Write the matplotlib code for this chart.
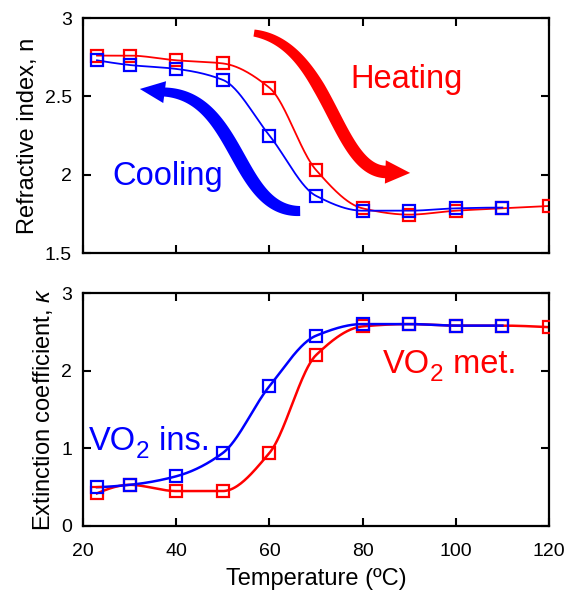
import numpy as np
import matplotlib
matplotlib.use('Agg')
import matplotlib.pyplot as plt
from matplotlib.patches import Polygon
from matplotlib.transforms import offset_copy

plt.rcParams['font.family'] = ['Liberation Sans', 'DejaVu Sans']
plt.rcParams['mathtext.fontset'] = 'custom'
plt.rcParams['mathtext.rm'] = 'Liberation Sans'
plt.rcParams['mathtext.it'] = 'Liberation Sans:italic'

# ---- data ----
temp_heat = [23, 30, 40, 50, 60, 70, 80, 90, 100, 110, 120]
temp_cool = [23, 30, 40, 50, 60, 70, 80, 90, 100, 110]
n_heat = [2.76, 2.76, 2.73, 2.71, 2.555, 2.03, 1.785, 1.745, 1.77, 1.785, 1.80]
n_cool = [2.73, 2.70, 2.675, 2.605, 2.25, 1.865, 1.77, 1.77, 1.785, 1.79]
k_heat = [0.42, 0.53, 0.45, 0.45, 0.94, 2.20, 2.57, 2.60, 2.58, 2.58, 2.56]
k_cool = [0.50, 0.53, 0.64, 0.94, 1.80, 2.45, 2.60, 2.60, 2.58, 2.58]

x_ticks = [20, 40, 60, 80, 100, 120]
n_ticks = [1.5, 2, 2.5, 3]
n_tick_labels = ['1.5', '2', '2.5', '3']
k_ticks = [0, 1, 2, 3]
k_tick_labels = ['0', '1', '2', '3']

RED = '#ff0000'
BLUE = '#0000ff'


def pchip(x, y, xs):
    x = np.asarray(x, float)
    y = np.asarray(y, float)
    h = np.diff(x)
    m = np.diff(y) / h
    n = len(x)
    d = np.zeros(n)
    for k in range(1, n - 1):
        if m[k - 1] * m[k] <= 0:
            d[k] = 0.0
        else:
            w1 = 2 * h[k] + h[k - 1]
            w2 = h[k] + 2 * h[k - 1]
            d[k] = (w1 + w2) / (w1 / m[k - 1] + w2 / m[k])

    def end(h0, h1, m0, m1):
        dd = ((2 * h0 + h1) * m0 - h0 * m1) / (h0 + h1)
        if np.sign(dd) != np.sign(m0):
            dd = 0.0
        elif np.sign(m0) != np.sign(m1) and abs(dd) > abs(3 * m0):
            dd = 3 * m0
        return dd

    d[0] = end(h[0], h[1], m[0], m[1])
    d[-1] = end(h[-1], h[-2], m[-1], m[-2])
    idx = np.clip(np.searchsorted(x, xs) - 1, 0, n - 2)
    t = (xs - x[idx]) / h[idx]
    h00 = 2 * t**3 - 3 * t**2 + 1
    h10 = t**3 - 2 * t**2 + t
    h01 = -2 * t**3 + 3 * t**2
    h11 = t**3 - t**2
    return h00 * y[idx] + h10 * h[idx] * d[idx] + h01 * y[idx + 1] + h11 * h[idx] * d[idx + 1]


def curved_arrow(ax, P, tip, wfun, head_w, color):
    T = ax.transData
    Pd = T.transform(np.array(P, float))
    tipd = T.transform(np.array([tip], float))[0]
    t = np.linspace(0, 1, 300)[:, None]
    B = ((1 - t)**3 * Pd[0] + 3 * (1 - t)**2 * t * Pd[1]
         + 3 * (1 - t) * t**2 * Pd[2] + t**3 * Pd[3])
    dB = (3 * (1 - t)**2 * (Pd[1] - Pd[0]) + 6 * (1 - t) * t * (Pd[2] - Pd[1])
          + 3 * t**2 * (Pd[3] - Pd[2]))
    nrm = np.column_stack([-dB[:, 1], dB[:, 0]]) / np.linalg.norm(dB, axis=1)[:, None]
    w = wfun(t[:, 0])[:, None]
    left = B + nrm * w / 2
    right = B - nrm * w / 2
    shaft = np.vstack([left, right[::-1]])
    dirv = tipd - Pd[3]
    dirv = dirv / np.linalg.norm(dirv)
    perp = np.array([-dirv[1], dirv[0]])
    base = Pd[3] - dirv * 1.5
    head = np.array([base + perp * head_w, tipd, base - perp * head_w])
    inv = T.inverted()
    ax.add_patch(Polygon(inv.transform(shaft), closed=True, fc=color, ec='none',
                         clip_on=False, zorder=4))
    ax.add_patch(Polygon(inv.transform(head), closed=True, fc=color, ec='none',
                         clip_on=False, zorder=4))


fig = plt.figure(figsize=(5.68, 5.95), dpi=100)
W, H = 568.0, 595.0
ax1 = fig.add_axes([83 / W, 1 - 253 / H, 466 / W, 235 / H])
ax2 = fig.add_axes([83 / W, 1 - 526 / H, 466 / W, 233 / H])

for ax in (ax1, ax2):
    ax.set_xlim(20, 120)
    ax.set_xticks(x_ticks)
    ax.tick_params(direction='in', top=True, right=True, length=6, width=1.5,
                   labelsize=14)
    ax.tick_params(axis='x', pad=12)
    ax.tick_params(axis='y', pad=8)
    for s in ax.spines.values():
        s.set_linewidth(1.6)

ax1.set_ylim(1.5, 3)
ax1.set_yticks(n_ticks)
ax1.set_yticklabels(n_tick_labels)
ax1.tick_params(axis='x', labelbottom=False)
ax2.set_ylim(0, 3)
ax2.set_yticks(k_ticks)
ax2.set_yticklabels(k_tick_labels)
ax2.set_xticklabels([str(v) for v in x_ticks])

xs_h = np.linspace(temp_heat[0], temp_heat[-1], 400)
xs_c = np.linspace(temp_cool[0], temp_cool[-1], 400)

mk = dict(marker='s', ms=8, mfc='none', mew=1.6, ls='none', zorder=3)

# top panel
ax1.plot(xs_h, pchip(temp_heat, n_heat, xs_h), color=RED, lw=1.3, zorder=2)
ax1.plot(temp_heat, n_heat, color=RED, **mk)
ax1.plot(xs_c, pchip(temp_cool, n_cool, xs_c), color=BLUE, lw=1.3, zorder=2)
ax1.plot(temp_cool, n_cool, color=BLUE, **mk)

# bottom panel
ax2.plot(xs_h, pchip(temp_heat, k_heat, xs_h), color=RED, lw=1.8, zorder=2)
ax2.plot(temp_heat, k_heat, color=RED, **mk)
ax2.plot(xs_c, pchip(temp_cool, k_cool, xs_c), color=BLUE, lw=1.8, zorder=2)
ax2.plot(temp_cool, k_cool, color=BLUE, **mk)

ax1.set_ylabel('Refractive index, n', fontsize=17)
ax2.set_ylabel(r'Extinction coefficient, $\kappa$', fontsize=17)
ax2.set_xlabel('Temperature (\u00baC)', fontsize=17, labelpad=6)

# annotations
ax1.text(77.3, 2.551, 'Heating', color=RED, fontsize=23.5, ha='left', va='baseline')
ax1.text(26.4, 1.934, 'Cooling', color=BLUE, fontsize=23.5, ha='left', va='baseline')

renderer = fig.canvas.get_renderer()


def chem_label(ax, x, y, main, sub, rest, color):
    t1 = ax.text(x, y, main, color=color, fontsize=23.5, ha='left', va='baseline')
    w1 = t1.get_window_extent(renderer).width
    tr2 = offset_copy(ax.transData, fig=fig, x=w1 + 0.5, y=-8, units='dots')
    t2 = ax.text(x, y, sub, color=color, fontsize=17.5, ha='left', va='baseline',
                 transform=tr2)
    w2 = t2.get_window_extent(renderer).width
    tr3 = offset_copy(ax.transData, fig=fig, x=w1 + w2 + 0.5, y=0, units='dots')
    ax.text(x, y, rest, color=color, fontsize=23.5, ha='left', va='baseline',
            transform=tr3)


chem_label(ax2, 21.2, 0.98, 'VO', '2', ' ins.', BLUE)
chem_label(ax2, 84.3, 1.97, 'VO', '2', ' met.', RED)

curved_arrow(ax1, [(56.7, 2.904), (73.0, 2.828), (74.1, 2.017), (85.2, 2.017)],
             (90.2, 2.011),
             lambda t: 7 + 5.5 * np.clip(t / 0.4, 0, 1) ** 0.8, 11.7, RED)
curved_arrow(ax1, [(66.6, 1.768), (52.6, 1.762), (53.7, 2.509), (37.2, 2.528)],
             (32.2, 2.547),
             lambda t: 10 + 4 * np.sin(np.pi * t) - 1.0 * t, 11.0, BLUE)

fig.savefig('out.png', dpi=100)
